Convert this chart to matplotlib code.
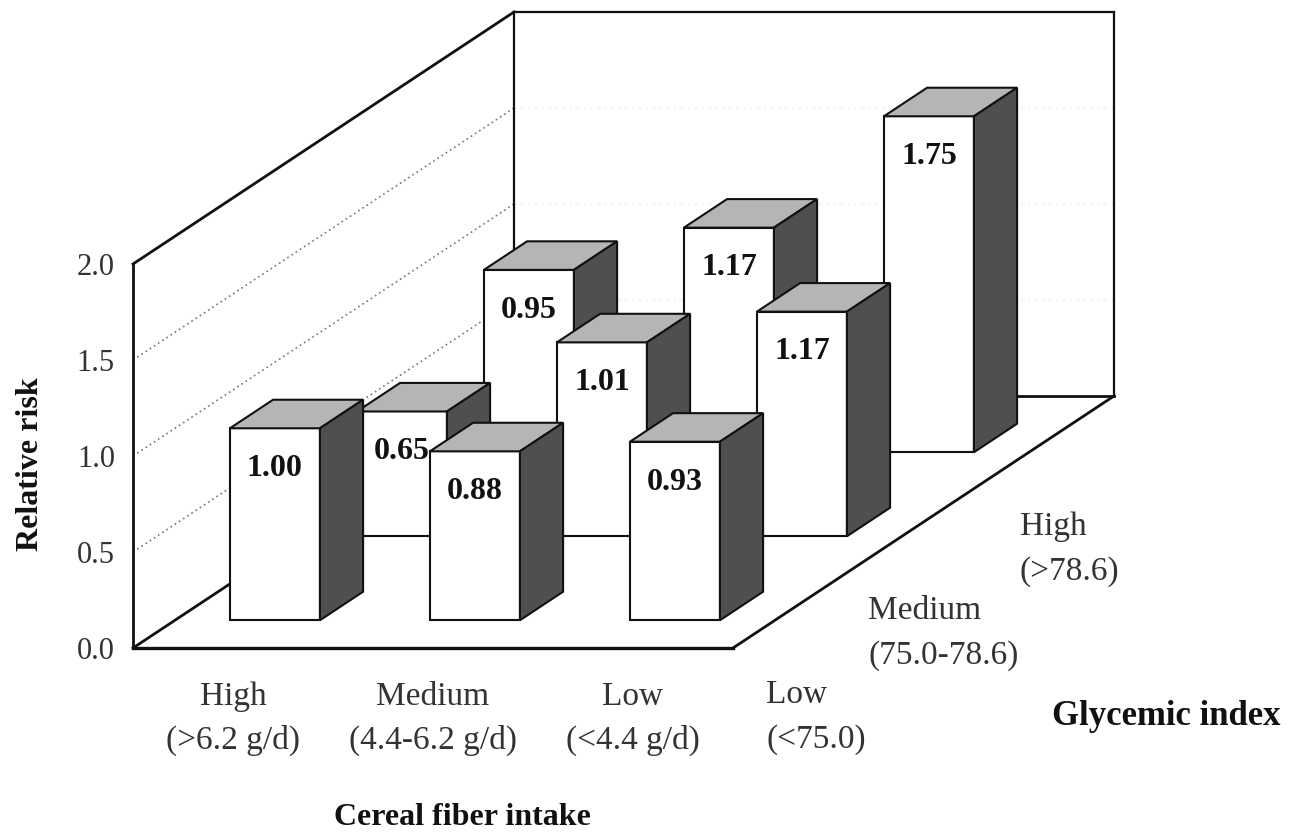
import numpy as np
import matplotlib
matplotlib.use("Agg")
import matplotlib.pyplot as plt
from matplotlib.patches import Polygon

# data
fiber_levels = ['High', 'Medium', 'Low']
fiber_ranges = ['(>6.2 g/d)', '(4.4-6.2 g/d)', '(<4.4 g/d)']
gi_levels = ['Low', 'Medium', 'High']
gi_ranges = ['(<75.0)', '(75.0-78.6)', '(>78.6)']
rr_gi_low = [1.00, 0.88, 0.93]
rr_gi_medium = [0.65, 1.01, 1.17]
rr_gi_high = [0.95, 1.17, 1.75]
y_ticks = [0.0, 0.5, 1.0, 1.5, 2.0]

rows = [rr_gi_low, rr_gi_medium, rr_gi_high]   # front to back
n_x = len(fiber_levels)
n_d = len(gi_levels)
y_top = y_ticks[-1]

# oblique projection: one depth row shifts right and up
DX, DY = 0.635, 0.4375


def proj(c, v, d):
    return c + d * DX, v + d * DY


plt.rcParams['font.family'] = ['Liberation Serif', 'DejaVu Serif']

fig = plt.figure(figsize=(12.94, 8.34), dpi=100)
ax = fig.add_axes([0, 0, 1, 1])
ax.set_xlim(-0.665, 5.805)
ax.set_ylim(-0.96875, 3.375)

black = '#111111'
grey_txt = '#333333'


def line(p, q, **kw):
    (x0, y0), (x1, y1) = proj(*p), proj(*q)
    ax.plot([x0, x1], [y0, y1], solid_capstyle='projecting', **kw)


# grid lines on left and back wall
for v in y_ticks[1:-1]:
    line((0, v, 0), (0, v, n_d), color='#777777', lw=1.2, ls=(0, (1, 2)), zorder=1)
    line((0, v, n_d), (n_x, v, n_d), color='#e4e4e4', lw=1.0, ls=(0, (1, 4)), zorder=1)

# box outline
line((0, y_top, 0), (0, y_top, n_d), color=black, lw=2.0, zorder=2)
line((0, 0, n_d), (0, y_top, n_d), color=black, lw=1.6, zorder=2)
line((0, y_top, n_d), (n_x, y_top, n_d), color=black, lw=1.6, zorder=2)
line((n_x, y_top, n_d), (n_x, 0, n_d), color=black, lw=1.6, zorder=2)
line((0, 0, n_d), (n_x, 0, n_d), color=black, lw=2.0, zorder=2)
line((0, 0, 0), (0, 0, n_d), color=black, lw=2.0, zorder=2)
line((n_x, 0, 0), (n_x, 0, n_d), color=black, lw=2.0, zorder=2)
line((0, 0, 0), (n_x, 0, 0), color=black, lw=2.4, zorder=2)

# bars, back row first
bw, bd = 0.45, 0.34
z = 10
for j in reversed(range(n_d)):
    for i in range(n_x):
        v = rows[j][i]
        x0 = i + (1 - bw) / 2
        x1 = x0 + bw
        d0 = j + (1 - bd) / 2
        d1 = d0 + bd
        front = [proj(x0, 0, d0), proj(x1, 0, d0), proj(x1, v, d0), proj(x0, v, d0)]
        top = [proj(x0, v, d0), proj(x1, v, d0), proj(x1, v, d1), proj(x0, v, d1)]
        side = [proj(x1, 0, d0), proj(x1, 0, d1), proj(x1, v, d1), proj(x1, v, d0)]
        for pts, fc in [(front, 'white'), (top, '#b5b5b5'), (side, '#4f4f4f')]:
            ax.add_patch(Polygon(pts, closed=True, facecolor=fc, edgecolor=black,
                                 lw=1.5, joinstyle='miter', zorder=z))
        tx, ty = proj((x0 + x1) / 2, v - 0.21, d0)
        ax.text(tx, ty, f'{v:.2f}', ha='center', va='center', fontsize=23,
                fontweight='bold', color=black, zorder=z + 0.5)
        z += 1

# y axis: left spine moved to the front edge of the wall
for s in ['top', 'right', 'bottom']:
    ax.spines[s].set_visible(False)
ax.spines['left'].set_position(('data', 0))
ax.spines['left'].set_bounds(0, y_top)
ax.spines['left'].set_linewidth(2.0)
ax.spines['left'].set_color(black)
ax.set_xticks([])
ax.set_yticks(y_ticks)
ax.set_yticklabels([f'{t:.1f}' for t in y_ticks])
ax.tick_params(axis='y', length=0, pad=13, labelsize=22, labelcolor=grey_txt)

# cereal fiber categories under the front edge
for i, (name, rng) in enumerate(zip(fiber_levels, fiber_ranges)):
    ax.text(i + 0.5, -0.297, name, ha='center', va='baseline', fontsize=24, color=grey_txt)
    ax.text(i + 0.5, -0.526, rng, ha='center', va='baseline', fontsize=24, color=grey_txt)

# glycemic index categories along the right floor edge
gi_nudge = [0.165, 0.04, 0.165]
for j, (name, rng) in enumerate(zip(gi_levels, gi_ranges)):
    gx, gy = proj(n_x, 0, j)
    ax.text(gx + gi_nudge[j], gy - 0.285, name, ha='left', va='baseline',
            fontsize=24, color=grey_txt)
    ax.text(gx + gi_nudge[j], gy - 0.52, rng, ha='left', va='baseline',
            fontsize=24, color=grey_txt)

ax.text(1.645, -0.92, 'Cereal fiber intake', ha='center', va='baseline',
        fontsize=23, fontweight='bold', color=black)
ax.text(4.595, -0.40, 'Glycemic index', ha='left', va='baseline',
        fontsize=25, fontweight='bold', color=black)
ax.text(-0.51, 0.96, 'Relative risk', rotation=90, ha='center', va='center',
        fontsize=23, fontweight='bold', color=black)

fig.savefig('out.png', dpi=100, facecolor='white')
